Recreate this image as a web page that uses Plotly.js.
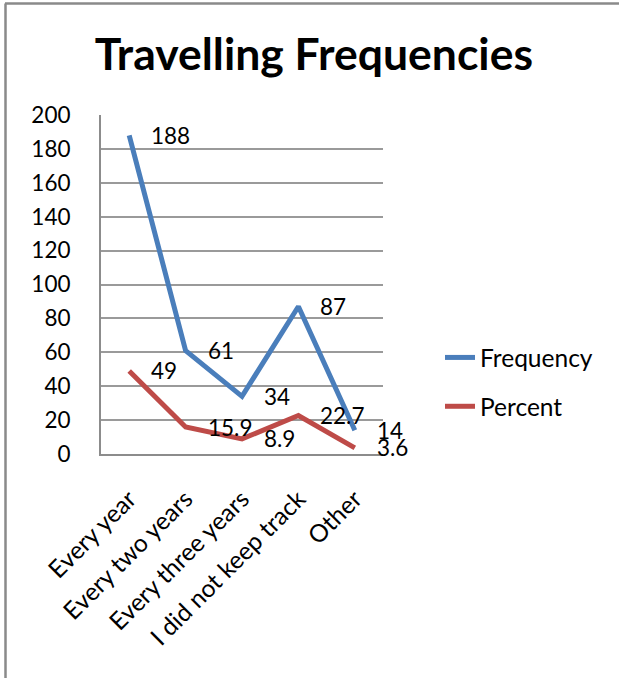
<!DOCTYPE html>
<html>
<head>
<meta charset="utf-8">
<script src="https://cdn.plot.ly/plotly-3.0.1.min.js"></script>
<style>
  html, body { margin: 0; padding: 0; background: #fff; }
  #chart { width: 619px; height: 678px; }
</style>
</head>
<body>
<div id="chart"></div>
<script>
// Travel frequency survey: counts and share of respondents
const categories = ["Every year", "Every two years", "Every three years", "I did not keep track", "Other"];
const frequency = [188, 61, 34, 87, 14];
const percent = [49, 15.9, 8.9, 22.7, 3.6];
const seriesNames = ["Frequency", "Percent"];
const yTicks = [0, 20, 40, 60, 80, 100, 120, 140, 160, 180, 200];

const FONT = "Lato, 'Open Sans', sans-serif";
const BLUE = "#4a7ebb";
const RED = "#be4b48";

const W = 619, H = 678;
const margin = { l: 101, r: 236, t: 115, b: 224 };
const plotW = W - margin.l - margin.r;
const plotH = H - margin.t - margin.b;

// paper-coordinate helpers for the outer frame
const px = x => (x - margin.l) / plotW;
const py = y => (H - margin.b - y) / plotH;

const traces = [
  {
    type: "scatter", mode: "lines", name: seriesNames[0], legendgroup: "a",
    x: categories, y: frequency,
    line: { color: BLUE, width: 5 },
    hoverinfo: "skip"
  },
  {
    type: "scatter", mode: "lines", name: seriesNames[1], legendgroup: "b",
    x: categories, y: percent,
    line: { color: RED, width: 5 },
    hoverinfo: "skip"
  }
];

// value labels to the right of each point
const labelFont = { family: FONT, size: 22.5, color: "#000" };
const annotations = [];
[frequency, percent].forEach(series => {
  series.forEach((v, i) => {
    annotations.push({
      x: categories[i], y: v, xref: "x", yref: "y",
      text: String(v), showarrow: false,
      xanchor: "left", yanchor: "middle", xshift: 20,
      font: labelFont
    });
  });
});

const layout = {
  width: W, height: H,
  margin: margin,
  paper_bgcolor: "#fff", plot_bgcolor: "#fff",
  title: {
    text: "<b>Travelling Frequencies</b>",
    font: { family: FONT, size: 44.5, color: "#000" },
    x: 0.507, xanchor: "center", xref: "container",
    y: 1 - 54 / H, yanchor: "middle", yref: "container"
  },
  xaxis: {
    type: "category",
    range: [-0.5, categories.length - 0.5],
    tickangle: -45,
    tickfont: { family: FONT, size: 24.5, color: "#000" },
    showgrid: false, zeroline: false,
    showline: true, linecolor: "#8c8c8c", linewidth: 2,
    ticks: "", ticklabelstandoff: 19,
    fixedrange: true
  },
  yaxis: {
    range: [0, 200],
    tickvals: yTicks,
    tickfont: { family: FONT, size: 22.5, color: "#000" },
    showgrid: true, gridcolor: "#9a9a9a", gridwidth: 2,
    zeroline: false,
    showline: true, linecolor: "#8c8c8c", linewidth: 2,
    ticks: "", ticklabelstandoff: 24,
    fixedrange: true
  },
  showlegend: true,
  legend: {
    x: px(440), xanchor: "left",
    y: py(335), yanchor: "top",
    font: { family: FONT, size: 24.5, color: "#000" },
    traceorder: "grouped", tracegroupgap: 14,
    bgcolor: "rgba(0,0,0,0)", borderwidth: 0
  },
  annotations: annotations,
  shapes: [
    { type: "line", xref: "paper", yref: "paper", x0: px(5), x1: px(W + 2), y0: py(3.5), y1: py(3.5),
      line: { color: "#8a8a8a", width: 2.5 } },
    { type: "line", xref: "paper", yref: "paper", x0: px(5.5), x1: px(5.5), y0: py(3.5), y1: py(H + 2),
      line: { color: "#8a8a8a", width: 2.5 } }
  ]
};

Plotly.newPlot("chart", traces, layout, { displayModeBar: false, staticPlot: true });
</script>
</body>
</html>
